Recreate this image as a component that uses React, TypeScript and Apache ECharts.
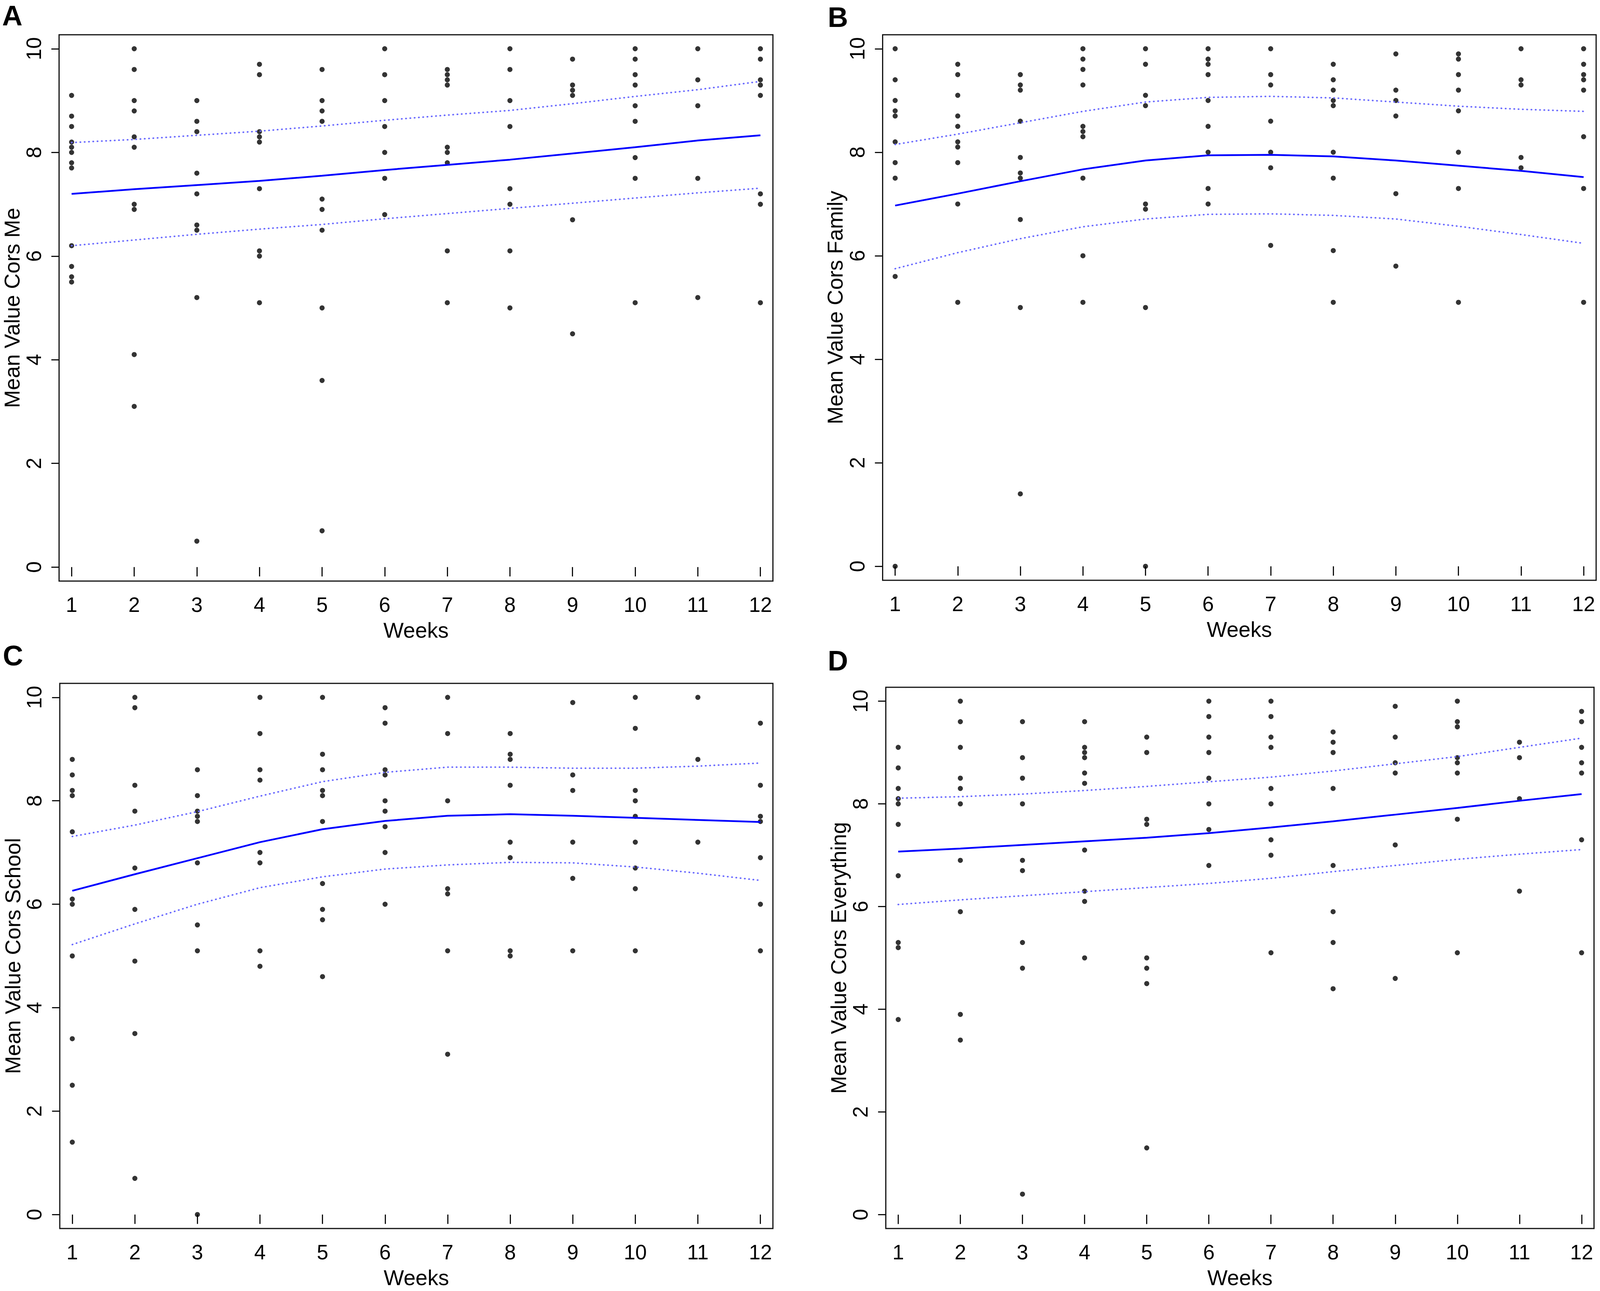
import React, { useEffect, useRef } from "react";
import * as echarts from "echarts";

// Reference canvas the layout was measured on
const REF_W = 4550;
const REF_H = 3306;
const FONT = "'Liberation Sans', Arial, Helvetica, sans-serif";

const weeks = [1, 2, 3, 4, 5, 6, 7, 8, 9, 10, 11, 12];
const yTicks = [0, 2, 4, 6, 8, 10];

// Panel A — Mean Value Cors Me (values per week)
const meValues: number[][] = [
  [9.1, 8.7, 8.5, 8.2, 8.1, 8.0, 7.8, 7.7, 6.2, 5.8, 5.6, 5.5],
  [10, 9.6, 9.0, 8.8, 8.3, 8.1, 7.0, 6.9, 4.1, 3.1],
  [9.0, 8.6, 8.4, 7.6, 7.2, 6.6, 6.5, 5.2, 0.5],
  [9.7, 9.5, 8.4, 8.3, 8.2, 7.3, 6.1, 6.0, 5.1],
  [9.6, 9.0, 8.8, 8.6, 7.1, 6.9, 6.5, 5.0, 3.6, 0.7],
  [10, 9.5, 9.0, 8.5, 8.0, 7.5, 6.8],
  [9.6, 9.5, 9.4, 9.3, 8.1, 8.0, 7.8, 6.1, 5.1],
  [10, 9.6, 9.0, 8.5, 7.3, 7.0, 6.1, 5.0],
  [9.8, 9.3, 9.2, 9.1, 6.7, 4.5],
  [10, 9.8, 9.5, 9.3, 8.9, 8.6, 7.9, 7.5, 5.1],
  [10, 9.4, 8.9, 7.5, 5.2],
  [10, 9.8, 9.4, 9.3, 9.1, 7.2, 7.0, 5.1],
];
const meFit = [7.2, 7.29, 7.37, 7.45, 7.55, 7.66, 7.76, 7.86, 7.98, 8.1, 8.23, 8.33];
const meUpper = [8.19, 8.25, 8.33, 8.41, 8.51, 8.62, 8.72, 8.81, 8.94, 9.08, 9.21, 9.37];
const meLower = [6.2, 6.31, 6.42, 6.52, 6.61, 6.72, 6.82, 6.92, 7.02, 7.12, 7.22, 7.31];

// Panel B — Mean Value Cors Family
const familyValues: number[][] = [
  [10, 9.4, 9.0, 8.8, 8.7, 8.2, 7.8, 7.5, 5.6, 0],
  [9.7, 9.5, 9.1, 8.7, 8.5, 8.2, 8.1, 7.8, 7.0, 5.1],
  [9.5, 9.3, 9.2, 8.6, 7.9, 7.6, 7.5, 6.7, 5.0, 1.4],
  [10, 9.8, 9.6, 9.3, 8.5, 8.4, 8.3, 7.5, 6.0, 5.1],
  [10, 9.7, 9.1, 8.9, 7.0, 6.9, 5.0, 0],
  [10, 9.8, 9.7, 9.5, 9.0, 8.5, 8.0, 7.3, 7.0],
  [10, 9.5, 9.3, 8.6, 8.0, 7.7, 6.2],
  [9.7, 9.4, 9.2, 9.0, 8.9, 8.0, 7.5, 6.1, 5.1],
  [9.9, 9.2, 9.0, 8.7, 7.2, 5.8],
  [9.9, 9.8, 9.5, 9.2, 8.8, 8.0, 7.3, 5.1],
  [10, 9.4, 9.3, 7.9, 7.7],
  [10, 9.7, 9.5, 9.4, 9.2, 8.3, 7.3, 5.1],
];
const familyFit = [6.97, 7.2, 7.44, 7.67, 7.84, 7.94, 7.95, 7.92, 7.84, 7.74, 7.64, 7.52];
const familyUpper = [8.15, 8.35, 8.57, 8.79, 8.97, 9.06, 9.08, 9.05, 8.97, 8.89, 8.83, 8.79];
const familyLower = [5.75, 6.06, 6.33, 6.56, 6.71, 6.8, 6.81, 6.78, 6.71, 6.57, 6.41, 6.24];

// Panel C — Mean Value Cors School
const schoolValues: number[][] = [
  [8.8, 8.5, 8.2, 8.1, 7.4, 6.1, 6.0, 5.0, 3.4, 2.5, 1.4],
  [10, 9.8, 8.3, 7.8, 6.7, 5.9, 4.9, 3.5, 0.7],
  [8.6, 8.1, 7.8, 7.7, 7.6, 6.8, 5.6, 5.1, 0],
  [10, 9.3, 8.6, 8.4, 7.0, 6.8, 5.1, 4.8],
  [10, 8.9, 8.6, 8.2, 8.1, 7.6, 6.4, 5.9, 5.7, 4.6],
  [9.8, 9.5, 8.6, 8.5, 8.0, 7.8, 7.5, 7.0, 6.0],
  [10, 9.3, 8.0, 6.3, 6.2, 5.1, 3.1],
  [9.3, 8.9, 8.8, 8.3, 7.2, 6.9, 5.1, 5.0],
  [9.9, 8.5, 8.2, 7.2, 6.5, 5.1],
  [10, 9.4, 8.2, 8.0, 7.7, 7.2, 6.7, 6.3, 5.1],
  [10, 8.8, 7.2],
  [9.5, 8.3, 7.7, 7.6, 6.9, 6.0, 5.1],
];
const schoolFit = [6.26, 6.58, 6.89, 7.2, 7.45, 7.61, 7.71, 7.74, 7.71, 7.67, 7.63, 7.59];
const schoolUpper = [7.31, 7.53, 7.79, 8.09, 8.37, 8.55, 8.65, 8.65, 8.63, 8.63, 8.67, 8.73];
const schoolLower = [5.22, 5.62, 6.0, 6.32, 6.53, 6.68, 6.76, 6.81, 6.8, 6.72, 6.6, 6.46];

// Panel D — Mean Value Cors Everything
const everythingValues: number[][] = [
  [9.1, 8.7, 8.3, 8.1, 8.0, 7.6, 6.6, 5.3, 5.2, 3.8],
  [10, 9.6, 9.1, 8.5, 8.3, 8.0, 6.9, 5.9, 3.9, 3.4],
  [9.6, 8.9, 8.5, 8.0, 6.9, 6.7, 5.3, 4.8, 0.4],
  [9.6, 9.1, 9.0, 8.9, 8.6, 8.4, 7.1, 6.3, 6.1, 5.0],
  [9.3, 9.0, 7.7, 7.6, 5.0, 4.8, 4.5, 1.3],
  [10, 9.7, 9.3, 9.0, 8.5, 8.0, 7.5, 6.8],
  [10, 9.7, 9.3, 9.1, 8.3, 8.0, 7.3, 7.0, 5.1],
  [9.4, 9.2, 9.0, 8.3, 6.8, 5.9, 5.3, 4.4],
  [9.9, 9.3, 8.8, 8.6, 7.2, 4.6],
  [10, 9.6, 9.5, 8.9, 8.8, 8.6, 7.7, 5.1],
  [9.2, 8.9, 8.1, 6.3],
  [9.8, 9.6, 9.1, 8.8, 8.6, 7.3, 5.1],
];
const everythingFit = [7.07, 7.13, 7.2, 7.27, 7.34, 7.43, 7.54, 7.66, 7.79, 7.92, 8.06, 8.19];
const everythingUpper = [8.11, 8.14, 8.19, 8.26, 8.34, 8.43, 8.52, 8.64, 8.78, 8.92, 9.1, 9.28];
const everythingLower = [6.04, 6.13, 6.21, 6.29, 6.37, 6.45, 6.55, 6.68, 6.8, 6.92, 7.02, 7.11];

const panelLetters = ["A", "B", "C", "D"];
const yTitles = [
  "Mean Value Cors Me",
  "Mean Value Cors Family",
  "Mean Value Cors School",
  "Mean Value Cors Everything",
];
const xTitle = "Weeks";

// layout measured in reference pixels (4550 x 3306), scaled to the viewport
const panels = [
  { values: meValues, fit: meFit, upper: meUpper, lower: meLower, grid: { left: 168, top: 89, width: 2030, height: 1399 }, letter: { x: 6, y: 4 } },
  { values: familyValues, fit: familyFit, upper: familyUpper, lower: familyLower, grid: { left: 2510, top: 89, width: 2029, height: 1397 }, letter: { x: 2354, y: 8 } },
  { values: schoolValues, fit: schoolFit, upper: schoolUpper, lower: schoolLower, grid: { left: 170, top: 1750, width: 2028, height: 1396 }, letter: { x: 8, y: 1643 } },
  { values: everythingValues, fit: everythingFit, upper: everythingUpper, lower: everythingLower, grid: { left: 2519, top: 1760, width: 2014, height: 1386 }, letter: { x: 2354, y: 1656 } },
];

function buildOption(w: number, h: number) {
  const sx = w / REF_W;
  const sy = h / REF_H;
  const fs = Math.sqrt(sx * sy);
  const tickFont = Math.round(56 * fs);
  const titleFont = Math.round(58 * fs);

  const grids: any[] = [];
  const xAxes: any[] = [];
  const yAxes: any[] = [];
  const series: any[] = [];
  const graphics: any[] = [];

  panels.forEach((p, i) => {
    const gl = p.grid.left * sx;
    grids.push({
      left: gl,
      top: p.grid.top * sy,
      width: p.grid.width * sx,
      height: p.grid.height * sy,
      show: true,
      borderColor: "#111",
      borderWidth: 3,
      backgroundColor: "transparent",
      containLabel: false,
    });
    xAxes.push({
      type: "value",
      gridIndex: i,
      min: 0.8,
      max: 12.2,
      axisLine: { show: false },
      splitLine: { show: false },
      axisTick: { show: true, customValues: weeks, length: 24 * sy, lineStyle: { color: "#111", width: 3 } },
      axisLabel: {
        show: true,
        customValues: weeks,
        color: "#000",
        fontSize: tickFont,
        fontFamily: FONT,
        margin: 34 * sy,
      },
      name: xTitle,
      nameLocation: "middle",
      nameGap: 98 * sy,
      nameTextStyle: { color: "#000", fontSize: titleFont, fontFamily: FONT },
    });
    yAxes.push({
      type: "value",
      gridIndex: i,
      min: -0.27,
      max: 10.27,
      axisLine: { show: false },
      splitLine: { show: false },
      axisTick: { show: true, customValues: yTicks, length: 22 * sx, lineStyle: { color: "#111", width: 3 } },
      axisLabel: {
        show: true,
        customValues: yTicks,
        rotate: 90,
        color: "#000",
        fontSize: tickFont,
        fontFamily: FONT,
        margin: 43 * sx,
      },
      name: yTitles[i],
      nameLocation: "middle",
      nameGap: Math.min(104 * sx, gl - titleFont * 1.12 - 2),
      nameTextStyle: { color: "#000", fontSize: titleFont, fontFamily: FONT },
    });

    const pts: number[][] = [];
    p.values.forEach((vals, wi) => {
      vals.forEach((v) => pts.push([weeks[wi], v]));
    });
    series.push({
      type: "scatter",
      xAxisIndex: i,
      yAxisIndex: i,
      data: pts,
      symbol: "circle",
      symbolSize: 13,
      itemStyle: { color: "#000" },
      silent: true,
    });
    const mk = (arr: number[]) => arr.map((v, k) => [weeks[k], v]);
    series.push({
      type: "line",
      xAxisIndex: i,
      yAxisIndex: i,
      data: mk(p.fit),
      showSymbol: false,
      symbol: "none",
      lineStyle: { color: "#0000ff", width: 4.5 },
      silent: true,
    });
    [p.upper, p.lower].forEach((arr) => {
      series.push({
        type: "line",
        xAxisIndex: i,
        yAxisIndex: i,
        data: mk(arr),
        showSymbol: false,
        symbol: "none",
        lineStyle: { color: "#6a6aff", width: 4, type: [1, 10], cap: "round" },
        silent: true,
      });
    });

    graphics.push({
      type: "text",
      x: p.letter.x * sx,
      y: p.letter.y * sy,
      style: {
        text: panelLetters[i],
        fill: "#000",
        font: `bold ${Math.round(76 * fs)}px ${FONT}`,
        textVerticalAlign: "top",
      },
    });
  });

  return {
    animation: false,
    backgroundColor: "#ffffff",
    grid: grids,
    xAxis: xAxes,
    yAxis: yAxes,
    series,
    graphic: graphics,
  };
}

export default function App() {
  const ref = useRef<HTMLDivElement>(null);
  useEffect(() => {
    const el = ref.current;
    if (!el) return;
    const w = el.clientWidth || REF_W;
    const h = el.clientHeight || REF_H;
    const chart = echarts.init(el, null, { renderer: "svg", width: w, height: h });
    chart.setOption(buildOption(w, h) as any);
    return () => {
      chart.dispose();
    };
  }, []);
  return (
    <div
      ref={ref}
      style={{
        position: "absolute",
        left: 0,
        top: 0,
        width: "100vw",
        height: "100vh",
        maxWidth: REF_W,
        maxHeight: REF_H,
        overflow: "hidden",
        background: "#fff",
      }}
    />
  );
}
